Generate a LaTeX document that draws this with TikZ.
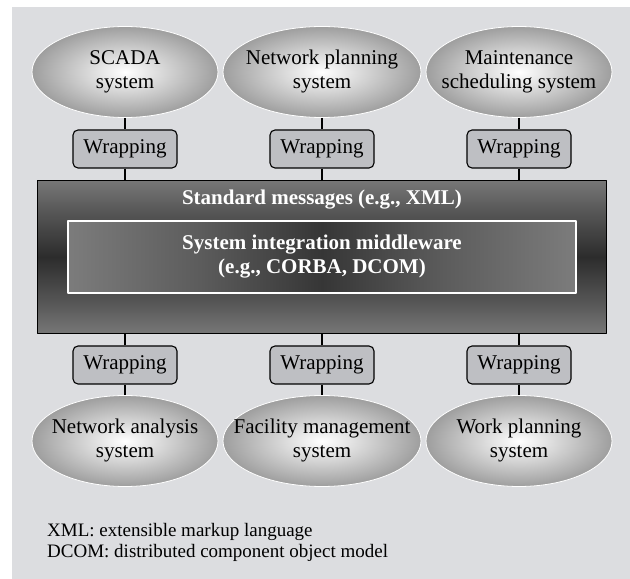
\documentclass[tikz,border=0pt]{standalone}
\usepackage{fontspec}
\setmainfont{Liberation Serif}
\usepackage{tikz}
\usetikzlibrary{shapes.geometric}
\definecolor{bgray}{RGB}{220,221,224}
\definecolor{wgray}{RGB}{190,191,195}
\definecolor{mwlight}{RGB}{118,118,118}
\definecolor{mwmid}{RGB}{84,84,84}
\definecolor{mwdark}{RGB}{44,44,44}
\definecolor{silight}{RGB}{124,124,124}
\definecolor{simid}{RGB}{92,92,92}
\definecolor{sidark}{RGB}{54,54,54}
\pgfdeclareverticalshading{mwshade}{100bp}{color(0bp)=(mwlight); color(25bp)=(mwlight);
  color(36bp)=(mwmid); color(50bp)=(mwdark); color(64bp)=(mwmid); color(75bp)=(mwlight);
  color(100bp)=(mwlight)}
\pgfdeclarehorizontalshading{sishade}{100bp}{color(0bp)=(silight); color(25bp)=(silight);
  color(38bp)=(simid); color(50bp)=(sidark); color(62bp)=(simid); color(75bp)=(silight);
  color(100bp)=(silight)}
\newcommand{\bigtxt}{\fontsize{21}{24}\selectfont}
\newcommand{\systxt}[1]{\makebox[110pt]{\begin{tabular}{@{}c@{}}#1\end{tabular}}}

\begin{document}
\begin{tikzpicture}[x=1pt,y=1pt,node distance=77pt,line join=round]
  \tikzstyle{sys}=[ellipse,draw=white,line width=0.8pt,inner color=white,outer color=black!38,
                   minimum width=186pt,minimum height=91pt,inner sep=0pt,font=\bigtxt]
  \tikzstyle{wrap}=[rectangle,rounded corners=5pt,draw=black,line width=1.1pt,fill=wgray,
                    minimum width=104pt,minimum height=38pt,inner sep=0pt,font=\bigtxt]
  \tikzstyle{link}=[line width=2.6pt]

  \useasboundingbox (0,0) rectangle (630,579);
  \fill[bgray] (12,0) rectangle (630,572);

  % upper systems
  \node[sys]                          (S1) at (125,507) {\systxt{SCADA\\system}};
  \node[sys,minimum width=198pt]      (S2) at (322,507) {\systxt{Network planning\\system}};
  \node[sys]                          (S3) at (519,507) {\systxt{Maintenance\\scheduling system}};
  \node[wrap] (W1) [below of=S1] {Wrapping};
  \node[wrap] (W2) [below of=S2] {Wrapping};
  \node[wrap] (W3) [below of=S3] {Wrapping};

  % middleware block
  \node[rectangle,minimum width=568pt,minimum height=152pt] (MW) at (322,322) {};
  \shade[shading=mwshade] (MW.north west) rectangle (MW.south east);
  \draw[line width=1.2pt] (MW.north west) rectangle (MW.south east);
  \node[text=white,font=\bigtxt\bfseries] (SM) at (322,379) {Standard messages (e.g., XML)};

  \node[rectangle,minimum width=508pt,minimum height=72pt] (SI) at (322,322) {};
  \shade[shading=sishade] (SI.north west) rectangle (SI.south east);
  \draw[white,line width=1.6pt] (SI.north west) rectangle (SI.south east);
  \node[text=white,align=center,font=\bigtxt\bfseries] (SIT) at (SI)
        {System integration middleware\\(e.g., CORBA, DCOM)};

  % lower systems
  \node[sys]                          (B1) at (125,138) {\systxt{Network analysis\\system}};
  \node[sys,minimum width=198pt]      (B2) at (322,138) {\systxt{Facility management\\system}};
  \node[sys]                          (B3) at (519,138) {\systxt{Work planning\\system}};
  \node[wrap] (W4) [above of=B1,node distance=76pt] {Wrapping};
  \node[wrap] (W5) [above of=B2,node distance=76pt] {Wrapping};
  \node[wrap] (W6) [above of=B3,node distance=76pt] {Wrapping};

  \foreach \s/\w in {S1/W1,S2/W2,S3/W3}
    \draw[link] (\s) -- (\w) (\w) -- (\w |- MW.north);
  \foreach \b/\w in {B1/W4,B2/W5,B3/W6}
    \draw[link] (\b) -- (\w) (\w) -- (\w |- MW.south);

  % legend
  \node[anchor=west,align=left,inner sep=0pt,font=\fontsize{19}{21}\selectfont] (LG) at (47,37)
    {XML: extensible markup language\\DCOM: distributed component object model};
\end{tikzpicture}
\end{document}
